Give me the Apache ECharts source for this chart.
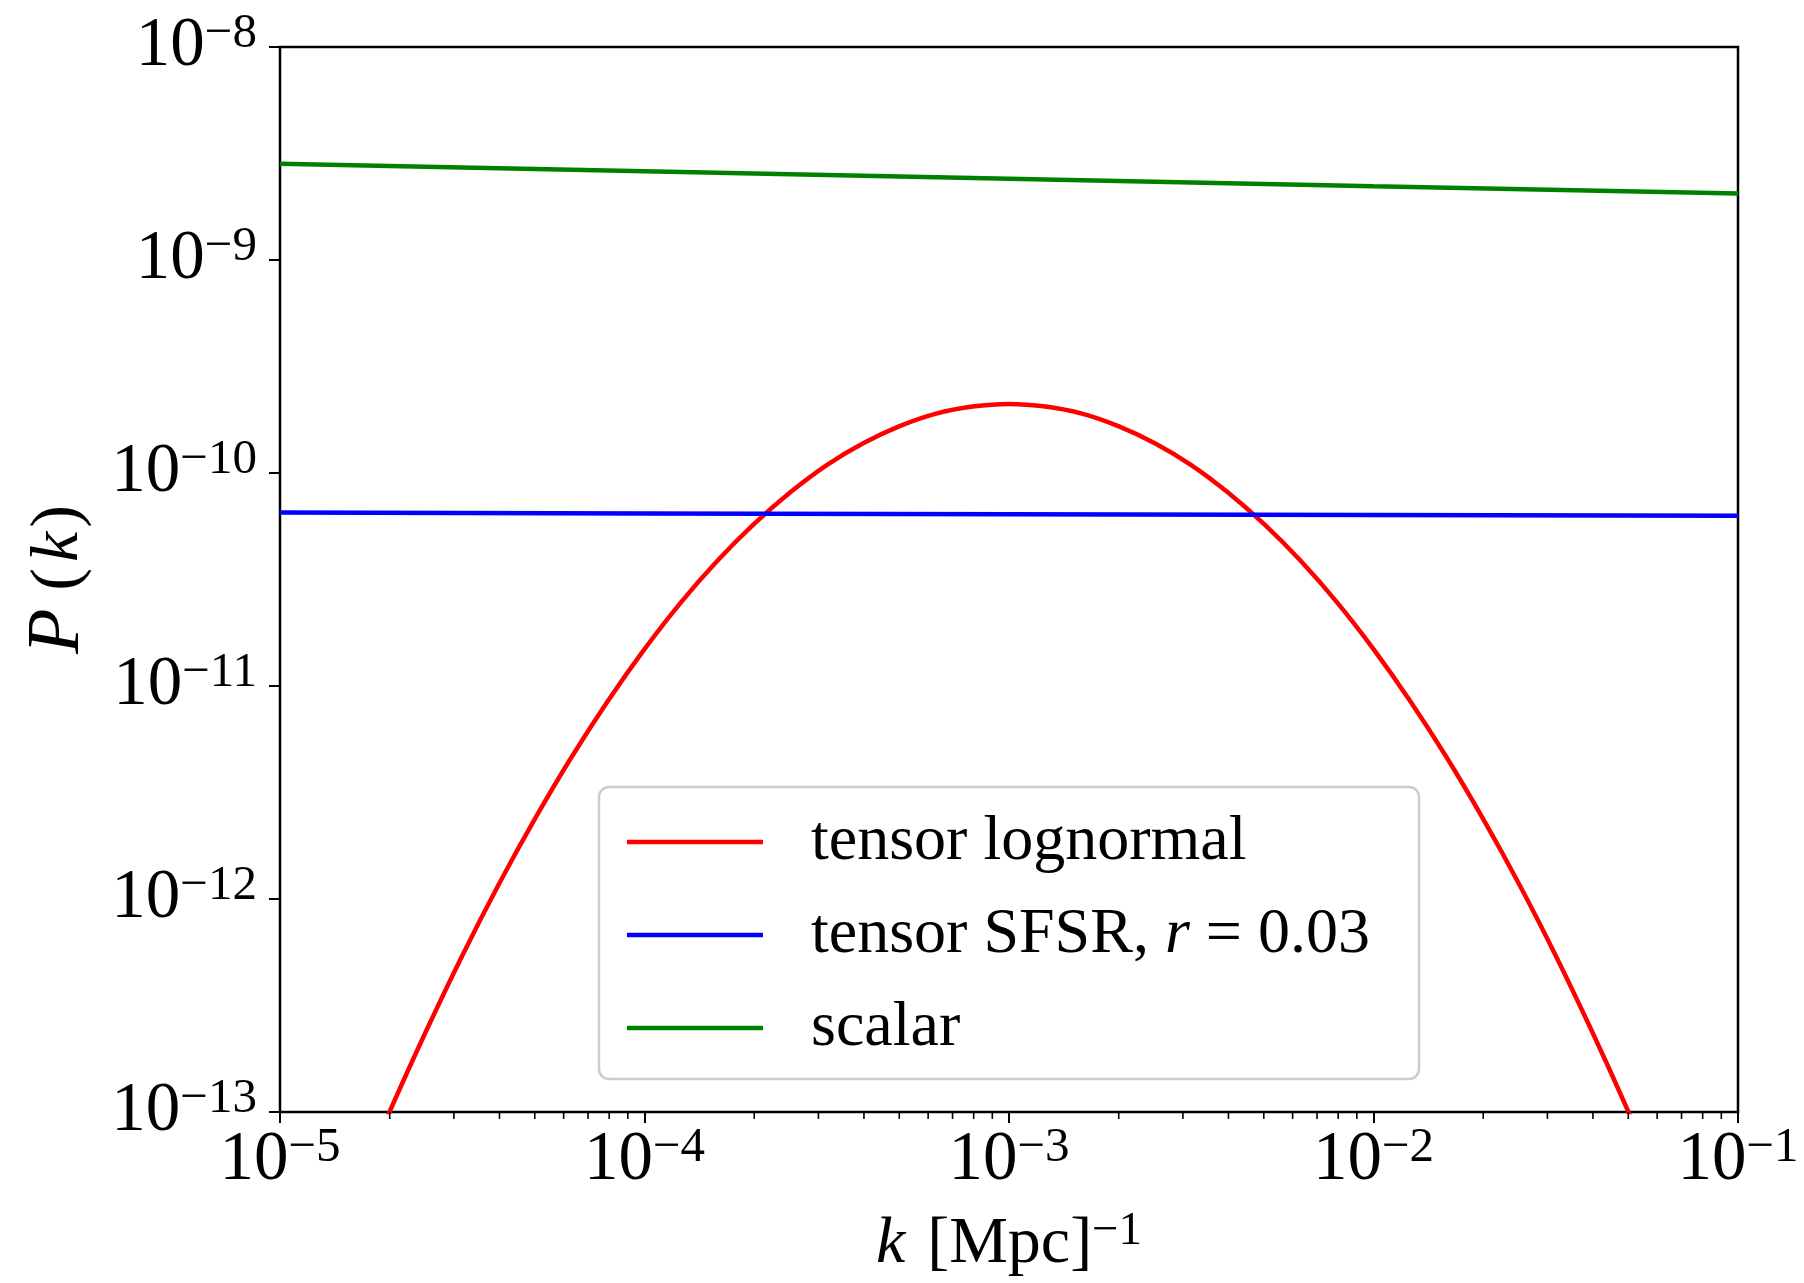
<!DOCTYPE html>
<html>
<head>
<meta charset="utf-8">
<script src="https://cdn.jsdelivr.net/npm/echarts@6/dist/echarts.min.js"></script>
<style>
  html, body { margin: 0; padding: 0; background: #ffffff; }
  #chart { width: 1804px; height: 1283px; }
</style>
</head>
<body>
<div id="chart"></div>
<script>
// Wavenumbers k [Mpc^-1] for the lognormal tensor spectrum (0.1-decade steps)
const kLognormal = [
  1.585e-5, 1.995e-5, 2.512e-5, 3.162e-5, 3.981e-5, 5.012e-5, 6.310e-5, 7.943e-5,
  1.0e-4, 1.259e-4, 1.585e-4, 1.995e-4, 2.512e-4, 3.162e-4, 3.981e-4, 5.012e-4, 6.310e-4, 7.943e-4,
  1.0e-3, 1.259e-3, 1.585e-3, 1.995e-3, 2.512e-3, 3.162e-3, 3.981e-3, 5.012e-3, 6.310e-3, 7.943e-3,
  1.0e-2, 1.259e-2, 1.585e-2, 1.995e-2, 2.512e-2, 3.162e-2, 3.981e-2, 5.012e-2, 6.310e-2
];
// Tensor lognormal power spectrum values
const tensorLognormal = [
  3.94e-14, 9.95e-14, 2.38e-13, 5.42e-13, 1.17e-12, 2.39e-12, 4.64e-12, 8.53e-12,
  1.49e-11, 2.47e-11, 3.87e-11, 5.75e-11, 8.12e-11, 1.09e-10, 1.38e-10, 1.66e-10, 1.90e-10, 2.05e-10,
  2.11e-10, 2.05e-10, 1.90e-10, 1.66e-10, 1.38e-10, 1.09e-10, 8.12e-11, 5.75e-11, 3.87e-11, 2.47e-11,
  1.49e-11, 8.53e-12, 4.64e-12, 2.39e-12, 1.17e-12, 5.42e-13, 2.38e-13, 9.95e-14, 3.94e-14
];
// Nearly scale-invariant spectra sampled at each decade
const kDecades = [1e-5, 1e-4, 1e-3, 1e-2, 1e-1];
const tensorSFSR = [6.52e-11, 6.46e-11, 6.41e-11, 6.35e-11, 6.30e-11];
const scalarP = [2.83e-9, 2.61e-9, 2.41e-9, 2.22e-9, 2.05e-9];

const seriesNames = ['tensor lognormal', 'tensor SFSR, r = 0.03', 'scalar'];
const legendLabels = ['tensor lognormal', 'tensor SFSR, {i|r}{r|=}0.03', 'scalar'];

// Axis ranges
const xMin = 1e-5, xMax = 1e-1;
const yMin = 1e-13, yMax = 1e-8;

// Minor ticks at 2..9 times each decade
function minorTicks(lo, hi) {
  const out = [];
  for (let d = lo; d < hi * 0.999; d *= 10) {
    for (let m = 2; m <= 9; m++) out.push(d * m);
  }
  return out;
}
const minorX = minorTicks(xMin, xMax);
const minorY = minorTicks(yMin, yMax);

const SERIF = '"Liberation Serif", "DejaVu Serif", serif';

function sciLabel(v) {
  const e = Math.round(Math.log10(v));
  return '{b|10}{s|' + (e < 0 ? '\u2212' + (-e) : e) + '}';
}
const tickRich = {
  b: { fontFamily: SERIF, fontSize: 69, lineHeight: 74, color: '#000' },
  s: { fontFamily: SERIF, fontSize: 49, lineHeight: 49, color: '#000', verticalAlign: 'top', padding: [0, 0, 30, 0] }
};

const chart = echarts.init(document.getElementById('chart'), null, { renderer: 'canvas' });

function tickRenderer(axis) {
  return function (params, api) {
    const v = api.value(0);
    if (axis === 'x') {
      const p = api.coord([v, yMin]);
      return { type: 'line', shape: { x1: p[0], y1: p[1], x2: p[0], y2: p[1] + 7 },
               style: { stroke: '#000', lineWidth: 1.6 } };
    } else {
      const p = api.coord([xMin, v]);
      return { type: 'line', shape: { x1: p[0], y1: p[1], x2: p[0] - 7, y2: p[1] },
               style: { stroke: '#000', lineWidth: 1.6 } };
    }
  };
}

chart.setOption({
  animation: false,
  backgroundColor: '#ffffff',
  grid: {
    left: 280, right: 66, top: 47, bottom: 171,
    containLabel: false, outerBoundsMode: 'none',
    show: true, borderColor: '#000', borderWidth: 2.5, backgroundColor: 'transparent'
  },
  xAxis: {
    type: 'log', logBase: 10, min: xMin, max: xMax, splitNumber: 4,
    axisLine: { show: false },
    axisTick: { show: true, length: 11, lineStyle: { color: '#000', width: 2 } },
    splitLine: { show: false },
    axisLabel: { margin: 12, formatter: sciLabel, rich: tickRich },
    name: '{i|k}{r|[Mpc]}{s|\u22121}',
    nameLocation: 'middle', nameGap: 88,
    nameTextStyle: {
      rich: {
        i: { fontFamily: SERIF, fontStyle: 'italic', fontSize: 66, lineHeight: 74, color: '#000', padding: [0, 22, 0, 0] },
        r: { fontFamily: SERIF, fontSize: 66, lineHeight: 74, color: '#000' },
        s: { fontFamily: SERIF, fontSize: 47, lineHeight: 47, color: '#000', verticalAlign: 'top', padding: [0, 0, 30, 0] }
      }
    }
  },
  yAxis: {
    type: 'log', logBase: 10, min: yMin, max: yMax, splitNumber: 5,
    axisLine: { show: false },
    axisTick: { show: true, length: 11, lineStyle: { color: '#000', width: 2 } },
    splitLine: { show: false },
    axisLabel: { margin: 23, formatter: sciLabel, rich: tickRich },
    name: '{p|P}{r|(}{i|k}{r|)}',
    nameLocation: 'middle', nameRotate: 90, nameGap: 182,
    nameTextStyle: {
      rich: {
        p: { fontFamily: SERIF, fontStyle: 'italic', fontSize: 74, lineHeight: 78, color: '#000', padding: [0, 18, 0, 0] },
        i: { fontFamily: SERIF, fontStyle: 'italic', fontSize: 68, lineHeight: 78, color: '#000', padding: [0, 4, 0, 6] },
        r: { fontFamily: SERIF, fontSize: 68, lineHeight: 78, color: '#000' }
      }
    }
  },
  graphic: [{
    type: 'rect', z: 90,
    shape: { x: 599, y: 787, width: 820, height: 292, r: 10 },
    style: { fill: 'rgba(255,255,255,0.8)', stroke: '#cccccc', lineWidth: 2.5 }
  }],
  legend: {
    z: 100,
    orient: 'vertical', left: 622, top: 805,
    data: seriesNames.map(n => ({ name: n, icon: 'rect' })),
    itemWidth: 136, itemHeight: 4.5, itemGap: 29,
    formatter: name => legendLabels[seriesNames.indexOf(name)],
    textStyle: {
      fontFamily: SERIF, fontSize: 64, lineHeight: 62, color: '#000', padding: [0, 0, 0, 43],
      rich: {
        i: { fontFamily: SERIF, fontStyle: 'italic', fontSize: 64, lineHeight: 62, color: '#000', padding: [0, 16, 0, 0] },
        r: { fontFamily: SERIF, fontSize: 64, lineHeight: 62, color: '#000', padding: [0, 16, 0, 0] }
      }
    },
    selectedMode: false
  },
  series: [
    {
      name: seriesNames[0], type: 'line', showSymbol: false, smooth: 0.3, clip: true,
      data: kLognormal.map((k, i) => [k, tensorLognormal[i]]),
      lineStyle: { color: '#ff0000', width: 4.5 }, itemStyle: { color: '#ff0000' }, z: 3
    },
    {
      name: seriesNames[1], type: 'line', showSymbol: false, clip: true,
      data: kDecades.map((k, i) => [k, tensorSFSR[i]]),
      lineStyle: { color: '#0000ff', width: 4.5 }, itemStyle: { color: '#0000ff' }, z: 3
    },
    {
      name: seriesNames[2], type: 'line', showSymbol: false, clip: true,
      data: kDecades.map((k, i) => [k, scalarP[i]]),
      lineStyle: { color: '#008000', width: 4.5 }, itemStyle: { color: '#008000' }, z: 3
    },
    {
      type: 'custom', silent: true, clip: false, z: 5,
      data: minorX.map(v => [v, yMin]),
      renderItem: tickRenderer('x')
    },
    {
      type: 'custom', silent: true, clip: false, z: 5,
      data: minorY.map(v => [xMin, v]),
      renderItem: tickRenderer('y')
    }
  ]
});
</script>
</body>
</html>
